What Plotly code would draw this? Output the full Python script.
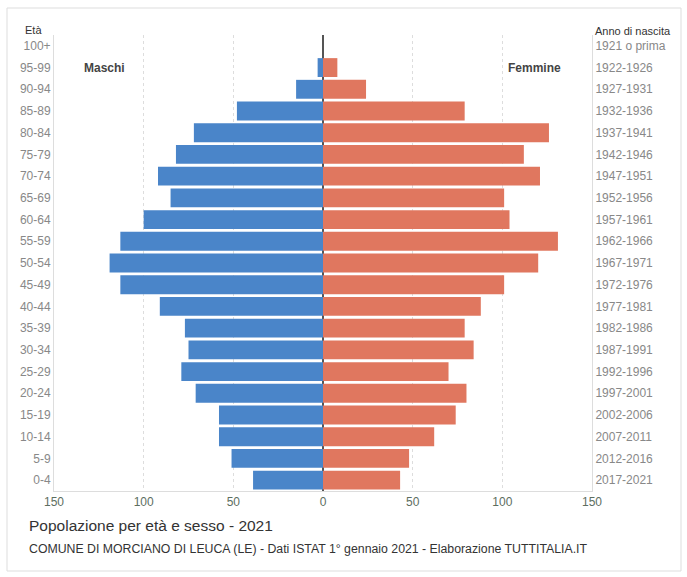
import plotly.graph_objects as go

age_groups = ["0-4", "5-9", "10-14", "15-19", "20-24", "25-29", "30-34", "35-39",
              "40-44", "45-49", "50-54", "55-59", "60-64", "65-69", "70-74", "75-79",
              "80-84", "85-89", "90-94", "95-99", "100+"]
birth_years = ["2017-2021", "2012-2016", "2007-2011", "2002-2006", "1997-2001",
               "1992-1996", "1987-1991", "1982-1986", "1977-1981", "1972-1976",
               "1967-1971", "1962-1966", "1957-1961", "1952-1956", "1947-1951",
               "1942-1946", "1937-1941", "1932-1936", "1927-1931", "1922-1926",
               "1921 o prima"]
males = [39, 51, 58, 58, 71, 79, 75, 77, 91, 113, 119, 113, 100, 85, 92, 82,
         72, 48, 15, 3, 0]
females = [43, 48, 62, 74, 80, 70, 84, 79, 88, 101, 120, 131, 104, 101, 121, 112,
           126, 79, 24, 8, 0]
x_ticks = [-150, -100, -50, 0, 50, 100, 150]
x_tick_text = ["150", "100", "50", "0", "50", "100", "150"]

BLUE = "#4a85c9"
ORANGE = "#e0775f"
FONT = "Liberation Sans, Arial, sans-serif"

fig = go.Figure()
fig.add_trace(go.Bar(
    y=age_groups, x=[-v for v in males], orientation="h",
    marker=dict(color=BLUE, line=dict(width=0)), name="Maschi",
    customdata=males, hovertemplate="%{y}: %{customdata}<extra>Maschi</extra>",
))
fig.add_trace(go.Bar(
    y=age_groups, x=females, orientation="h",
    marker=dict(color=ORANGE, line=dict(width=0)), name="Femmine",
    hovertemplate="%{y}: %{x}<extra>Femmine</extra>",
))
# invisible trace to carry the right-hand (birth year) axis
fig.add_trace(go.Scatter(
    y=age_groups, x=[0] * len(age_groups), yaxis="y2", mode="markers",
    marker=dict(opacity=0), hoverinfo="skip", showlegend=False,
))

fig.update_layout(
    width=687, height=577,
    margin=dict(l=54, r=95, t=35, b=86, autoexpand=False),
    paper_bgcolor="white", plot_bgcolor="white",
    barmode="relative", bargap=0.13,
    showlegend=False,
    font=dict(family=FONT, size=12, color="#888888"),
    xaxis=dict(
        range=[-150, 150], tickmode="array", tickvals=x_ticks, ticktext=x_tick_text,
        showgrid=True, gridcolor="#dddddd", griddash="dot", gridwidth=1,
        zeroline=True, zerolinecolor="#555555", zerolinewidth=1.5,
        showline=True, linecolor="#dddddd", linewidth=1,
        tickfont=dict(color="#5d6e5f", size=12), ticks="",
        automargin=False,
    ),
    yaxis=dict(
        type="category", categoryorder="array", categoryarray=age_groups,
        showgrid=False, zeroline=False,
        showline=True, linecolor="#dddddd", linewidth=1,
        tickfont=dict(color="#888888", size=12), ticks="",
        range=[-0.5, 20.5], automargin=False,
    ),
    yaxis2=dict(
        overlaying="y", side="right", matches="y",
        type="category", categoryorder="array", categoryarray=age_groups,
        tickmode="array", tickvals=age_groups, ticktext=birth_years,
        showgrid=False, zeroline=False,
        showline=True, linecolor="#dddddd", linewidth=1,
        tickfont=dict(color="#888888", size=12), ticks="",
        automargin=False,
    ),
)

annotations = [
    dict(text="<b>Maschi</b>", x=-122, y="95-99", xref="x", yref="y",
         showarrow=False, font=dict(size=12, color="#444444")),
    dict(text="<b>Femmine</b>", x=118, y="95-99", xref="x", yref="y",
         showarrow=False, font=dict(size=12, color="#444444")),
    dict(text="Età", x=(44 - 54) / 538, y=(491 - 30) / 456, xref="paper", yref="paper",
         xanchor="right", yanchor="middle", showarrow=False,
         font=dict(size=11, color="#333333")),
    dict(text="Anno di nascita", x=(593 - 54) / 538, y=(491 - 31) / 456,
         xref="paper", yref="paper", xanchor="left", yanchor="middle",
         showarrow=False, font=dict(size=11, color="#333333")),
    dict(text="Popolazione per età e sesso - 2021", x=(27 - 54) / 538,
         y=(491 - 525) / 456, xref="paper", yref="paper", xanchor="left",
         yanchor="middle", showarrow=False, font=dict(size=15.5, color="#333333")),
    dict(text="COMUNE DI MORCIANO DI LEUCA (LE) - Dati ISTAT 1° gennaio 2021 - Elaborazione TUTTITALIA.IT",
         x=(27 - 54) / 538, y=(491 - 549) / 456, xref="paper", yref="paper",
         xanchor="left", yanchor="middle", showarrow=False,
         font=dict(size=12.3, color="#333333")),
]
fig.update_layout(annotations=annotations)

fig.add_shape(type="rect", xref="paper", yref="paper",
              x0=(7 - 54) / 538, x1=(681 - 54) / 538,
              y0=(491 - 571) / 456, y1=(491 - 8) / 456,
              line=dict(color="#dddddd", width=1), fillcolor="rgba(0,0,0,0)",
              layer="below")

fig.write_html("out.html", config={"displayModeBar": False})

# remove the default browser page margin so the figure sits at (0, 0)
with open("out.html", "r", encoding="utf-8") as f:
    html = f.read()
html = html.replace("<head>", "<head><style>html,body{margin:0;padding:0;overflow:hidden;}</style>", 1)
with open("out.html", "w", encoding="utf-8") as f:
    f.write(html)
